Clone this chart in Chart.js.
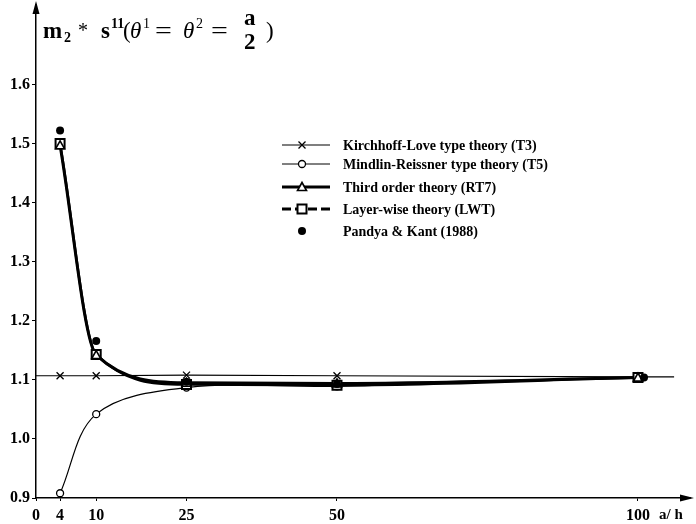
<!DOCTYPE html>
<html>
<head>
<meta charset="utf-8">
<script src="https://cdn.jsdelivr.net/npm/chart.js@4"></script>
<style>
  body { margin: 0; background: #fff; }
  #wrap { position: relative; width: 696px; height: 524px; }
  #title { position: absolute; left: 39px; top: 0px; height: 60px; width: 260px; font: bold 23px "Liberation Serif", serif; color: #000; white-space: nowrap; }
  #title span { position: absolute; }
  #title .s { font-size: 14px; }
  #title .th { font-style: italic; font-weight: normal; }
  #title .op { font-weight: normal; }
  #title .eq { font-weight: normal; transform: scaleX(1.3); transform-origin: 0 0; }
</style>
</head>
<body>
<div id="wrap">
  <canvas id="myChart" width="696" height="524"></canvas>
  <div id="title"><span style="left:4px;top:18px">m</span><span class="s" style="left:25px;top:30px">2</span><span class="op" style="left:39px;top:19px;font-size:20px">*</span><span style="left:62px;top:18px">s</span><span class="s" style="left:72px;top:16px">11</span><span class="op" style="left:84px;top:18px">(</span><span class="th" style="left:91px;top:18px">θ</span><span class="s op" style="left:104px;top:16px">1</span><span class="eq" style="left:116px;top:18px">=</span><span class="th" style="left:144px;top:18px">θ</span><span class="s op" style="left:157px;top:16px">2</span><span class="eq" style="left:172px;top:18px">=</span><span style="left:205px;top:5px">a</span><span style="left:205px;top:29px">2</span><span class="op" style="left:227px;top:18px">)</span></div>
</div>
<script>
// values
const aOverH = [4, 10, 25, 50, 100];
const klX = [0, 4, 10, 25, 50, 100, 106];
const klVals = [1.107, 1.107, 1.107, 1.108, 1.107, 1.105, 1.105];
const t5Vals = [0.908, 1.042, 1.087, 1.089, 1.104];
const rt7Vals = [1.497, 1.142, 1.095, 1.094, 1.104];
const lwtVals = [1.500, 1.143, 1.092, 1.091, 1.104];
const pandyaX = [4, 10, 25, 50, 101];
const pandyaVals = [1.522, 1.166, 1.097, 1.093, 1.104];
const xTicks = [0, 4, 10, 25, 50, 100];
const yTicks = [0.9, 1.0, 1.1, 1.2, 1.3, 1.4, 1.5, 1.6];
const legendLabels = [
  'Kirchhoff-Love type theory (T3)',
  'Mindlin-Reissner type theory (T5)',
  'Third order theory (RT7)',
  'Layer-wise theory (LWT)',
  'Pandya & Kant (1988)'
];

const FONT = '"Liberation Serif", serif';

function pts(xs, ys) { return xs.map((x, i) => ({x: x, y: ys[i]})); }

function drawMark(c, type, x, y) {
  c.save();
  c.strokeStyle = '#000';
  c.fillStyle = '#fff';
  c.lineWidth = 1.3;
  c.setLineDash([]);
  c.beginPath();
  if (type == 'cross') {
    c.moveTo(x - 3.5, y - 3.5); c.lineTo(x + 3.5, y + 3.5);
    c.moveTo(x + 3.5, y - 3.5); c.lineTo(x - 3.5, y + 3.5);
    c.stroke();
  } else if (type == 'circle') {
    c.arc(x, y, 3.5, 0, Math.PI * 2);
    c.fill(); c.stroke();
  } else if (type == 'triangle') {
    c.lineWidth = 1.6;
    c.moveTo(x, y - 4.5); c.lineTo(x + 4.5, y + 3.5); c.lineTo(x - 4.5, y + 3.5); c.closePath();
    c.fill(); c.stroke();
  } else if (type == 'rect') {
    c.lineWidth = 2;
    c.rect(x - 4.5, y - 4.5, 9, 9);
    c.fill(); c.stroke();
  } else if (type == 'dot') {
    c.fillStyle = '#000';
    c.arc(x, y, 4, 0, Math.PI * 2);
    c.fill();
  }
  c.restore();
}

const extras = {
  id: 'extras',
  afterDraw(chart) {
    const c = chart.ctx;
    const a = chart.chartArea;
    c.save();
    c.fillStyle = '#000';
    c.strokeStyle = '#000';
    // y axis arrow
    c.lineWidth = 1.5;
    c.beginPath(); c.moveTo(a.left, a.top); c.lineTo(a.left, 4); c.stroke();
    c.beginPath(); c.moveTo(a.left, 1); c.lineTo(a.left + 3.5, 14); c.lineTo(a.left - 3.5, 14); c.closePath(); c.fill();
    // x axis arrow
    c.beginPath(); c.moveTo(a.right + 4, a.bottom); c.lineTo(a.right - 10, a.bottom - 3.5); c.lineTo(a.right - 10, a.bottom + 3.5); c.closePath(); c.fill();
    // axis label
    c.font = 'bold 15px ' + FONT;
    c.textBaseline = 'middle';
    c.textAlign = 'left';
    c.fillText('a/ h', 659, 515);
    // legend
    const rows = [145, 164, 187, 209, 231];
    const kinds = ['cross', 'circle', 'triangle', 'rect', 'dot'];
    const widths = [1.2, 1, 3, 3, 0];
    rows.forEach((y, i) => {
      if (widths[i] > 0) {
        c.lineWidth = widths[i];
        c.setLineDash(i == 3 ? [9, 4] : []);
        c.beginPath(); c.moveTo(282, y); c.lineTo(330, y); c.stroke();
        c.setLineDash([]);
      }
      drawMark(c, kinds[i], 302, y);
      c.fillStyle = '#000';
      c.font = 'bold 14px ' + FONT;
      c.fillText(legendLabels[i], 343, y + 1);
    });
    c.restore();
  }
};

const ctx = document.getElementById('myChart');

const config = {
  type: 'line',
  data: {
    datasets: [
      {
        label: 'T3',
        data: pts(klX, klVals),
        borderColor: '#000',
        borderWidth: 1.2,
        pointRadius: 0,
        tension: 0
      },
      {
        label: 'T5',
        data: pts(aOverH, t5Vals),
        borderColor: '#000',
        borderWidth: 1.2,
        pointRadius: 0,
        tension: 0.35
      },
      {
        label: 'RT7',
        data: pts(aOverH, rt7Vals),
        borderColor: '#000',
        borderWidth: 3,
        pointRadius: 0,
        cubicInterpolationMode: 'monotone'
      },
      {
        label: 'LWT',
        data: pts(aOverH, lwtVals),
        borderColor: '#000',
        borderWidth: 2.5,
        pointRadius: 0,
        cubicInterpolationMode: 'monotone'
      }
    ]
  },
  options: {
    responsive: false,
    animation: false,
    layout: { padding: { left: 0, top: 8, right: 6, bottom: 0 } },
    plugins: { legend: { display: false }, tooltip: { enabled: false } },
    scales: {
      x: {
        type: 'linear',
        min: 0,
        max: 108.64,
        afterBuildTicks: function(scale) { scale.ticks = xTicks.map(v => ({value: v})); },
        afterFit: function(scale) { scale.height = 26; },
        border: { display: true, color: '#000', width: 1.5 },
        grid: { drawOnChartArea: false, drawTicks: true, tickLength: 3, color: '#000' },
        ticks: { color: '#000', padding: 5, maxRotation: 0, autoSkip: false, font: { family: FONT, size: 16, weight: 'bold' } }
      },
      y: {
        type: 'linear',
        min: 0.9,
        max: 1.7235,
        afterBuildTicks: function(scale) { scale.ticks = yTicks.map(v => ({value: v})); },
        afterFit: function(scale) { scale.width = 36; },
        border: { display: true, color: '#000', width: 1.5 },
        grid: { drawOnChartArea: false, drawTicks: true, tickLength: 4, color: '#000' },
        ticks: { color: '#000', padding: 2, autoSkip: false, callback: v => v.toFixed(1), font: { family: FONT, size: 16, weight: 'bold' } }
      }
    }
  },
  plugins: [extras, {
    id: 'marks',
    afterDatasetsDraw(chart) {
      const xs = chart.scales.x, ys = chart.scales.y;
      const c = chart.ctx;
      aOverH.forEach((x, i) => {
        drawMark(c, 'cross', xs.getPixelForValue(x), ys.getPixelForValue(klVals[klX.indexOf(x)]));
        drawMark(c, 'circle', xs.getPixelForValue(x), ys.getPixelForValue(t5Vals[i]));
        drawMark(c, 'rect', xs.getPixelForValue(x), ys.getPixelForValue(lwtVals[i]));
        drawMark(c, 'triangle', xs.getPixelForValue(x), ys.getPixelForValue(rt7Vals[i]));
      });
      pandyaX.forEach((x, i) => {
        drawMark(c, 'dot', xs.getPixelForValue(x), ys.getPixelForValue(pandyaVals[i]));
      });
    }
  }]
};

const chart = new Chart(ctx, config);
</script>
</body>
</html>
